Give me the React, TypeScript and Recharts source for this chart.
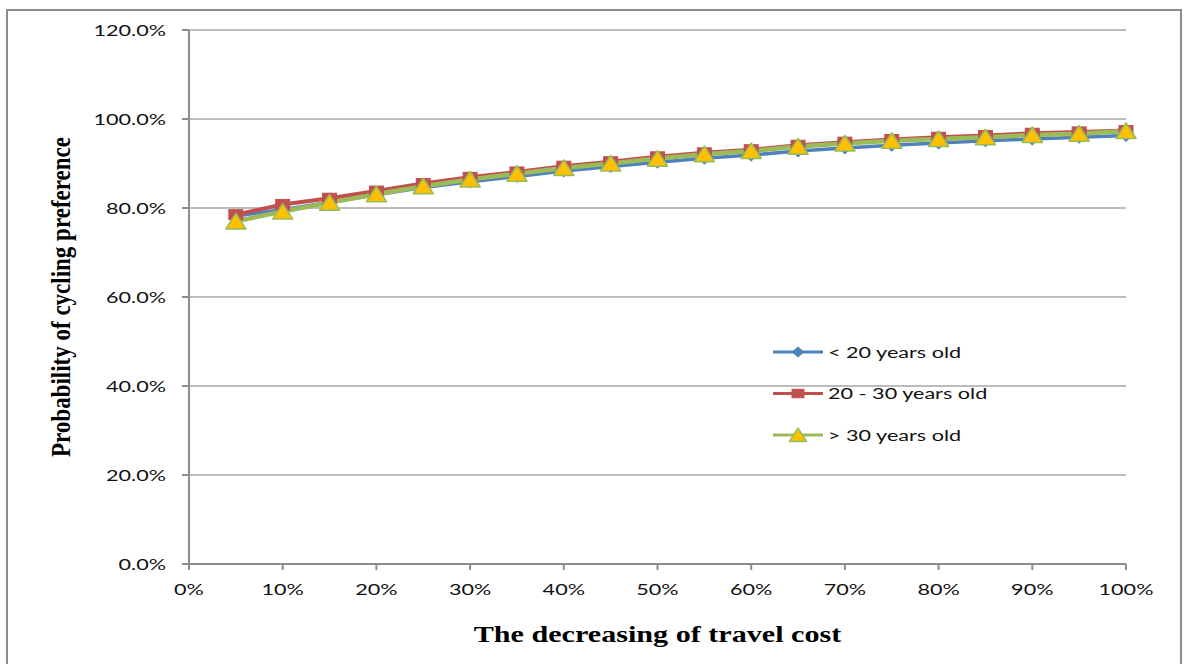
import React from 'react';
import { LineChart, Line, XAxis, YAxis, CartesianGrid, Legend } from 'recharts';

// Reduction of travel cost (%)
const costReduction = [5, 10, 15, 20, 25, 30, 35, 40, 45, 50, 55, 60, 65, 70, 75, 80, 85, 90, 95, 100];

// Probability of cycling preference (%) by age group
const under20 = [78.2, 79.6, 81.3, 83.0, 84.6, 85.9, 87.1, 88.3, 89.3, 90.3, 91.2, 91.9, 92.8, 93.5, 94.1, 94.6, 95.1, 95.5, 95.9, 96.3];
const age20to30 = [78.5, 80.8, 82.2, 83.8, 85.5, 86.9, 88.1, 89.4, 90.4, 91.5, 92.4, 93.1, 94.1, 94.8, 95.4, 95.9, 96.3, 96.8, 97.1, 97.4];
const over30 = [77.0, 79.2, 81.2, 83.1, 84.9, 86.4, 87.7, 89.0, 90.0, 91.1, 92.1, 92.8, 93.8, 94.5, 95.1, 95.5, 95.9, 96.4, 96.7, 97.3];

const xTicks = [0, 10, 20, 30, 40, 50, 60, 70, 80, 90, 100];
const yTicks = [0, 20, 40, 60, 80, 100, 120];

const seriesNames = ['< 20 years old', '20 - 30 years old', '> 30 years old'];

const data = costReduction.map((c, i) => ({
  cut: c,
  young: under20[i],
  mid: age20to30[i],
  old: over30[i],
}));

const BLUE = '#4F81BD';
const RED = '#C0504D';
const GREEN = '#9BBB59';
const GOLD = '#FFC000';
const AXIS = '#8c8c8c';
const GRID = '#a6a6a6';
const TICK_FONT = 'Lato, "Open Sans", sans-serif';
const TITLE_FONT = '"Liberation Serif", "Times New Roman", serif';
const STRETCH = 1.35;

type MarkerKind = 'diamond' | 'square' | 'triangle';

function Marker({ kind, cx, cy, s = 1 }: { kind: MarkerKind; cx: number; cy: number; s?: number }) {
  if (kind === 'diamond') {
    return (
      <path
        d={`M${cx},${cy - 6 * s} L${cx + 6.5 * s},${cy} L${cx},${cy + 6 * s} L${cx - 6.5 * s},${cy} Z`}
        fill={BLUE}
        stroke={BLUE}
        strokeWidth={1}
      />
    );
  }
  if (kind === 'square') {
    return <rect x={cx - 7 * s} y={cy - 5 * s} width={14 * s} height={10 * s} fill={RED} stroke={RED} strokeWidth={1} />;
  }
  return (
    <path
      d={`M${cx},${cy - 8 * s} L${cx + 10 * s},${cy + 7.5 * s} L${cx - 10 * s},${cy + 7.5 * s} Z`}
      fill={GOLD}
      stroke={GREEN}
      strokeWidth={1.6}
      strokeLinejoin="round"
    />
  );
}

const makeDot = (kind: MarkerKind) => (props: any) => {
  const { cx, cy, index } = props;
  if (cx == null || cy == null) return <g key={`${kind}-${index}`} />;
  return (
    <g key={`${kind}-${index}`}>
      <Marker kind={kind} cx={cx} cy={cy} />
    </g>
  );
};

const series = [
  { key: 'young', name: seriesNames[0], color: BLUE, kind: 'diamond' as MarkerKind, width: 3.5 },
  { key: 'mid', name: seriesNames[1], color: RED, kind: 'square' as MarkerKind, width: 4 },
  { key: 'old', name: seriesNames[2], color: GREEN, kind: 'triangle' as MarkerKind, width: 4.5 },
];

const YTick = (props: any) => {
  const { x, y, payload } = props;
  return (
    <g transform={`translate(${x},${y})`}>
      <text
        transform={`scale(${STRETCH},1)`}
        textAnchor="end"
        dy="0.36em"
        fontFamily={TICK_FONT}
        fontSize={16}
        fill="#111"
      >
        {`${Number(payload.value).toFixed(1)}%`}
      </text>
    </g>
  );
};

const XTick = (props: any) => {
  const { x, y, payload } = props;
  return (
    <g transform={`translate(${x},${y})`}>
      <text
        transform={`scale(${STRETCH},1)`}
        textAnchor="middle"
        dy="0.36em"
        fontFamily={TICK_FONT}
        fontSize={16}
        fill="#111"
      >
        {`${payload.value}%`}
      </text>
    </g>
  );
};

const XTitle = (props: any) => {
  const vb = props.viewBox || {};
  const cx = vb.x + vb.width / 2;
  return (
    <g transform={`translate(${cx},${vb.y + 70}) scale(1.31,1)`}>
      <text textAnchor="middle" dy="0.35em" fontFamily={TITLE_FONT} fontWeight="bold" fontSize={23} fill="#000">
        The decreasing of travel cost
      </text>
    </g>
  );
};

const YTitle = (props: any) => {
  const vb = props.viewBox || {};
  const cy = vb.y + vb.height / 2;
  return (
    <g transform={`translate(${vb.x - 49},${cy}) scale(1.2,1) rotate(-90)`}>
      <text textAnchor="middle" dy="0.35em" fontFamily={TITLE_FONT} fontWeight="bold" fontSize={23} fill="#000">
        Probability of cycling preference
      </text>
    </g>
  );
};

const renderLegend = () => (
  <svg width={240} height={120} style={{ display: 'block', overflow: 'visible' }}>
    {series.map((s, i) => {
      const y = 12 + i * 41.5;
      return (
        <g key={s.key}>
          <line x1={0} x2={50} y1={y} y2={y} stroke={s.color} strokeWidth={3} />
          <Marker kind={s.kind} cx={25} cy={y} s={0.85} />
          <g transform={`translate(55,${y})`}>
            <text transform={`scale(${STRETCH},1)`} dy="0.36em" fontFamily={TICK_FONT} fontSize={16} fill="#111">
              {s.name}
            </text>
          </g>
        </g>
      );
    })}
  </svg>
);

export default function App() {
  return (
    <div style={{ position: 'absolute', left: 0, top: 0, width: 1186, height: 664, background: '#fff', overflow: 'hidden' }}>
      <div
        style={{
          position: 'absolute',
          left: 6,
          top: 9,
          width: 1176,
          height: 700,
          border: `2px solid ${AXIS}`,
          boxSizing: 'border-box',
        }}
      />
      <div style={{ position: 'absolute', left: 0, top: 0 }}>
        <LineChart width={1186} height={664} data={data} margin={{ top: 30, right: 60, bottom: 70, left: 109 }}>
          <CartesianGrid vertical={false} stroke={GRID} strokeWidth={1.5} />
          <XAxis
            dataKey="cut"
            type="number"
            domain={[0, 100]}
            ticks={xTicks}
            height={30}
            axisLine={{ stroke: AXIS, strokeWidth: 2 }}
            tickLine={{ stroke: AXIS, strokeWidth: 2 }}
            tickSize={6}
            tickMargin={19}
            tick={<XTick />}
            interval={0}
            label={<XTitle />}
          />
          <YAxis
            type="number"
            domain={[0, 120]}
            ticks={yTicks}
            width={80}
            axisLine={{ stroke: AXIS, strokeWidth: 2 }}
            tickLine={{ stroke: AXIS, strokeWidth: 2 }}
            tickSize={7}
            tickMargin={16}
            tick={<YTick />}
            interval={0}
            label={<YTitle />}
          />
          <Legend
            layout="horizontal"
            verticalAlign="middle"
            align="center"
            content={renderLegend}
            wrapperStyle={{ position: 'absolute', left: 773, top: 340, width: 240, height: 120 }}
          />
          {series.map((s) => (
            <Line
              key={s.key}
              dataKey={s.key}
              name={s.name}
              type="linear"
              stroke={s.color}
              strokeWidth={s.width}
              dot={makeDot(s.kind)}
              activeDot={false}
              isAnimationActive={false}
            />
          ))}
        </LineChart>
      </div>
    </div>
  );
}
